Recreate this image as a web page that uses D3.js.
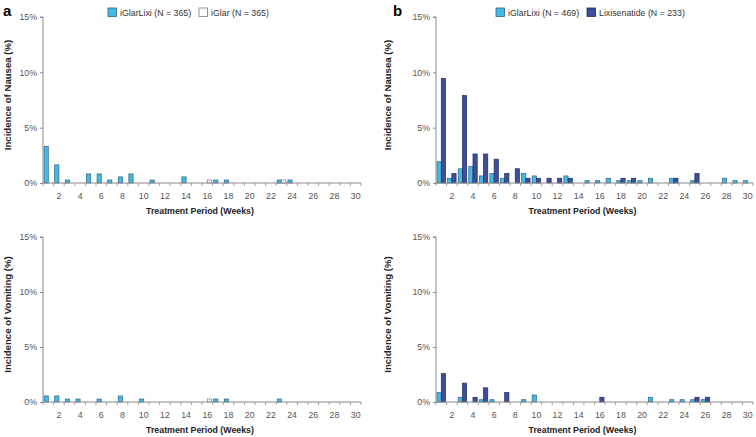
<!DOCTYPE html>
<html>
<head>
<meta charset="utf-8">
<script src="https://cdn.jsdelivr.net/npm/d3@7/dist/d3.min.js"></script>
<style>
  html, body { margin: 0; padding: 0; background: #fff; }
  svg { display: block; font-family: "Liberation Sans", Arial, sans-serif; }
</style>
</head>
<body>
<svg id="chart" width="756" height="437"></svg>
<script>
// ---------- data ----------
const weeks = [1,2,3,4,5,6,7,8,9,10,11,12,13,14,15,16,17,18,19,20,21,22,23,24,25,26,27,28,29,30];
const xTickLabels = [2,4,6,8,10,12,14,16,18,20,22,24,26,28,30];
const yTicks = [0, 5, 10, 15];

const legendA = ["iGlarLixi (N = 365)", "iGlar (N = 365)"];
const legendB = ["iGlarLixi (N = 469)", "Lixisenatide (N = 233)"];

// Panel a – nausea
const nauseaA_iGlarLixi = [3.3,1.64,0.27,0,0.82,0.82,0.27,0.55,0.82,0,0.27,0,0,0.55,0,0,0.27,0.27,0,0,0,0,0.27,0.27,0,0,0,0,0,0];
const nauseaA_iGlar     = [0,0,0,0,0,0,0,0,0,0,0,0,0,0,0,0.27,0,0,0,0,0,0,0.27,0,0,0,0,0,0,0];
// Panel a – vomiting
const vomitA_iGlarLixi  = [0.55,0.55,0.27,0.27,0,0.27,0,0.55,0,0.27,0,0,0,0,0,0,0.27,0.27,0,0,0,0,0.27,0,0,0,0,0,0,0];
const vomitA_iGlar      = [0,0,0,0,0,0,0,0,0,0,0,0,0,0,0,0.27,0,0,0,0,0,0,0,0,0,0,0,0,0,0];
// Panel b – nausea
const nauseaB_iGlarLixi = [1.92,0.43,1.28,1.49,0.64,0.85,0.43,0,0.85,0.64,0,0,0.64,0,0.21,0.21,0.43,0.21,0.21,0.21,0.43,0,0.43,0,0.21,0,0,0.43,0.21,0.21];
const nauseaB_Lixi      = [9.44,0.86,7.9,2.62,2.62,2.15,0.86,1.29,0.43,0.43,0.43,0.43,0.43,0,0,0,0,0.43,0.43,0,0,0,0.43,0,0.86,0,0,0,0,0];
// Panel b – vomiting
const vomitB_iGlarLixi  = [0.85,0,0.43,0,0.21,0.21,0,0,0.21,0.64,0,0,0,0,0,0,0,0,0,0,0.43,0,0.21,0.21,0.21,0.21,0,0,0,0];
const vomitB_Lixi       = [2.58,0,1.72,0.43,1.29,0,0.86,0,0,0,0,0,0,0,0,0.43,0,0,0,0,0,0,0,0,0.43,0.43,0,0,0,0];

// ---------- styles ----------
const styles = {
  lixi:  { fill: "#45b9e6", stroke: "#2a6487" },
  glar:  { fill: "#ffffff", stroke: "#7a7a7a" },
  lixis: { fill: "#3d4f9c", stroke: "#1f2a5e" }
};

const svg = d3.select("#chart");

function drawPanel(opt) {
  const g = svg.append("g");
  const x = d3.scaleBand().domain(weeks).range([opt.x0, opt.x1]).paddingInner(0.2).paddingOuter(0.1);
  const y = d3.scaleLinear().domain([0, 15]).range([opt.y0, opt.y1]);
  const sub = d3.scaleBand().domain(d3.range(opt.series.length)).range([0, x.bandwidth()]);

  // bars
  opt.series.forEach((s, si) => {
    const pts = weeks.map((w, i) => ({ w, v: s.values[i] })).filter(d => d.v > 0);
    g.selectAll(null).data(pts).enter().append("rect")
      .attr("x", d => x(d.w) + sub(si))
      .attr("y", d => y(d.v))
      .attr("width", sub.bandwidth())
      .attr("height", d => y(0) - y(d.v))
      .attr("fill", s.style.fill)
      .attr("stroke", s.style.stroke)
      .attr("stroke-width", 0.7);
  });

  // y axis
  const yAxis = d3.axisLeft(y).tickValues(yTicks).tickFormat(d => d + "%").tickSize(3).tickPadding(3);
  const ya = g.append("g").attr("transform", `translate(${opt.x0},0)`).call(yAxis);
  ya.select(".domain").attr("stroke", "#8a8a8a").attr("d", `M-3,${y(15)}H0V${y(0)}`);
  ya.selectAll(".tick line").attr("stroke", "#8a8a8a");
  ya.selectAll(".tick text").attr("fill", "#555").style("font-size", "8.8px")
    .style("font-family", "'Liberation Sans', Arial, sans-serif");

  // x axis: line + boundary ticks + even labels
  const step = x.step();
  const xa = g.append("g");
  xa.append("line").attr("x1", opt.x0).attr("x2", opt.x1).attr("y1", y(0)).attr("y2", y(0))
    .attr("stroke", "#8a8a8a").attr("stroke-width", 1);
  const bounds = weeks.map(w => x(w) - (step - x.bandwidth()) / 2).concat([x(30) + x.bandwidth() + (step - x.bandwidth()) / 2]);
  xa.selectAll(null).data(bounds).enter().append("line")
    .attr("x1", d => d).attr("x2", d => d).attr("y1", y(0)).attr("y2", y(0) + 3)
    .attr("stroke", "#8a8a8a").attr("stroke-width", 0.8);
  xa.selectAll(null).data(xTickLabels).enter().append("text")
    .attr("x", d => x(d) + x.bandwidth() / 2).attr("y", y(0) + 16)
    .attr("text-anchor", "middle").attr("fill", "#555").style("font-size", "8.8px")
    .text(d => d);

  // axis titles
  g.append("text").attr("transform", `translate(${opt.ytx},${(y(0) + y(15)) / 2 - 5}) rotate(-90)`)
    .attr("text-anchor", "middle").style("font-size", "9.6px").style("font-weight", "bold").attr("fill", "#222")
    .text(opt.yTitle);
  g.append("text").attr("x", (opt.x0 + opt.x1) / 2 + opt.xtOff).attr("y", y(0) + 31)
    .attr("text-anchor", "middle").style("font-size", "8.8px").style("font-weight", "bold").attr("fill", "#222")
    .text("Treatment Period (Weeks)");
}

function drawLegend(items, positions) {
  items.forEach((it, i) => {
    const p = positions[i];
    svg.append("rect").attr("x", p).attr("y", 8).attr("width", 8.5).attr("height", 8.5)
      .attr("fill", it.style.fill).attr("stroke", it.style.stroke).attr("stroke-width", 0.8);
    svg.append("text").attr("x", p + 12).attr("y", 15.5).style("font-size", "8.8px").attr("fill", "#333")
      .text(it.label);
  });
}

// Panel a
drawPanel({ x0: 43, x1: 361, y0: 183, y1: 17, ytx: 11, xtOff: -2, yTitle: "Incidence of Nausea (%)",
  series: [{ values: nauseaA_iGlarLixi, style: styles.lixi }, { values: nauseaA_iGlar, style: styles.glar }] });
drawPanel({ x0: 43, x1: 361, y0: 402, y1: 237, ytx: 11, xtOff: -2, yTitle: "Incidence of Vomiting (%)",
  series: [{ values: vomitA_iGlarLixi, style: styles.lixi }, { values: vomitA_iGlar, style: styles.glar }] });
// Panel b
drawPanel({ x0: 436, x1: 753, y0: 183, y1: 17, ytx: 391, xtOff: -12, yTitle: "Incidence of Nausea (%)",
  series: [{ values: nauseaB_iGlarLixi, style: styles.lixi }, { values: nauseaB_Lixi, style: styles.lixis }] });
drawPanel({ x0: 436, x1: 753, y0: 402, y1: 237, ytx: 391, xtOff: -12, yTitle: "Incidence of Vomiting (%)",
  series: [{ values: vomitB_iGlarLixi, style: styles.lixi }, { values: vomitB_Lixi, style: styles.lixis }] });

drawLegend([{ label: legendA[0], style: styles.lixi }, { label: legendA[1], style: styles.glar }], [108, 199]);
drawLegend([{ label: legendB[0], style: styles.lixi }, { label: legendB[1], style: styles.lixis }], [496, 587]);

svg.append("text").attr("x", 3).attr("y", 16).style("font-size", "15px").style("font-weight", "bold").text("a");
svg.append("text").attr("x", 393).attr("y", 16).style("font-size", "15px").style("font-weight", "bold").text("b");
</script>
</body>
</html>
